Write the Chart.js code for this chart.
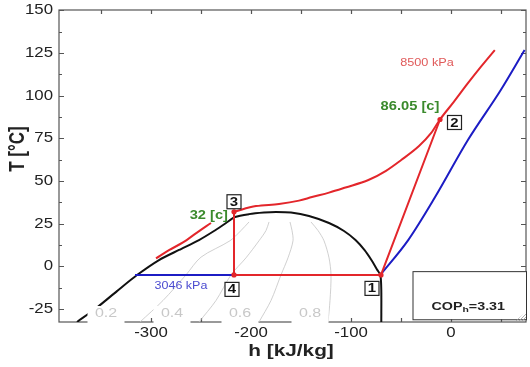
<!DOCTYPE html>
<html>
<head>
<meta charset="utf-8">
<script src="https://cdn.jsdelivr.net/npm/chart.js@4.4.0/dist/chart.umd.min.js"></script>
<style>
  html, body { margin: 0; padding: 0; background: #fff; }
  canvas { display: block; }
</style>
</head>
<body>
<canvas id="chart" width="530" height="367"></canvas>
<script>
// T-h diagram, CO2 heat pump cycle

const xTicks = [-300, -200, -100, 0];
const yTicks = [150, 125, 100, 75, 50, 25, 0, -25];

// saturation dome
const domeH = [-374, -354, -334, -314, -292, -272, -252, -237, -225, -216, -202, -187, -175, -160, -142, -122, -107, -95.5, -86.6, -79.6, -73.6, -70.6, -69.7, -69.7];
const domeT = [-32.6, -24.1, -14.5, -5.1, 3.7, 9.6, 15.4, 20.7, 25.4, 28.9, 30.6, 31.5, 31.8, 31.5, 29.5, 25.4, 20.7, 15.4, 9.6, 3.7, -2.2, -5.1, -13.9, -32.6];

// 8500 kPa isobar (gap under the "32 [c]" label)
const hpH = [-295, -282, -268, -254, -240, -228, -217, -195, -172, -152, -139, -122, -105.5, -82.6, -65, -49.8, -32, -20, -11, 3, 16.9, 30, 43.8];
const hpT = [4.7, 9.5, 14, 19.8, 25.4, null, 32, 35.3, 36.5, 38.5, 40.6, 43.2, 46.2, 50.6, 56, 62.3, 70.5, 78, 86.05, 96.5, 107.3, 117, 126.7];

// 3046 kPa isobar
const lpH = [-316, -217, -140, -70.6, -42.8, -15.9, 16.9, 49.8, 73.6];
const lpT = [-5, -5, null, -5, 15.4, 40.6, 74, 103.3, 126.7];

// cycle 1-2, 3-4-1
const cycH = [-70, -11, -100, -217, -217, -70];
const cycT = [-5, 86.05, null, 32, -5, -5];

// state points
const stateLabels = ['1', '2', '3', '4'];
const stateH = [-70, -11, -217, -217];
const stateT = [-5, 86.05, 32, -5];

// quality lines
const qualityLabels = ['0.2', '0.4', '0.6', '0.8'];
const q02H = [-311, -288, -265, -250, -221, -210, -202];
const q02T = [-32.6, -20, -5, 5.4, 15, 21, 26];
const q04H = [-252, -235, -220, -205, -192, -185, -182];
const q04T = [-32.6, -20, -5, 5, 15, 21, 26];
const q06H = [-192, -180, -170, -163, -158, -159, -161];
const q06T = [-32.6, -20, -5, 5, 15, 21, 26];
const q08H = [-123, -121, -120, -122, -127, -133, -140];
const q08T = [-32.6, -20, -5, 5, 15, 21, 26];

const FONT = '"Liberation Sans", Arial, Helvetica, sans-serif';
const RED = '#e3262b';
const BLUE = '#1c1cc4';

function pts(hs, ts) {
    return hs.map((h, i) => ({ x: h, y: ts[i] }));
}

function txt(ctx, s, x, y, font, color, align, sx) {
    ctx.save();
    ctx.translate(x, y);
    ctx.scale(sx, 1);
    ctx.font = font;
    ctx.fillStyle = color;
    ctx.textAlign = align;
    ctx.textBaseline = 'middle';
    ctx.fillText(s, 0, 0);
    ctx.restore();
}

function qualityLine(hs, ts) {
    return {
        data: pts(hs, ts), showLine: true, borderColor: '#c4c4c4',
        borderWidth: 0.8, pointRadius: 0, tension: 0.3, order: 5,
    };
}

const deco = {
    id: 'deco',
    beforeDatasetsDraw(chart) {
        const ctx = chart.ctx;
        const a = chart.chartArea;
        const xs = chart.scales.x, ys = chart.scales.y;
        ctx.save();
        ctx.strokeStyle = '#555';
        ctx.lineWidth = 1.2;
        ctx.strokeRect(a.left, a.top, a.right - a.left, a.bottom - a.top);
        ctx.beginPath();
        for (let v = -25; v <= 150; v += 12.5) {
            const y = Math.round(ys.getPixelForValue(v)) + 0.5;
            const len = v % 25 === 0 ? 5 : 3;
            ctx.moveTo(a.left, y); ctx.lineTo(a.left + len, y);
            ctx.moveTo(a.right, y); ctx.lineTo(a.right - len, y);
        }
        for (let h = -350; h <= 50; h += 50) {
            const x = Math.round(xs.getPixelForValue(h)) + 0.5;
            ctx.moveTo(x, a.top); ctx.lineTo(x, a.top + 4);
            ctx.moveTo(x, a.bottom); ctx.lineTo(x, a.bottom - 4);
        }
        ctx.stroke();
        ctx.restore();
    },
    afterDatasetsDraw(chart) {
        const ctx = chart.ctx;
        const a = chart.chartArea;
        const xs = chart.scales.x, ys = chart.scales.y;
        const px = h => xs.getPixelForValue(h);
        const py = t => ys.getPixelForValue(t);

        // quality labels with white boxes over the axis
        const qH = [-345, -279, -211, -141];
        qualityLabels.forEach((s, i) => {
            const cx = px(qH[i]);
            ctx.fillStyle = '#fff';
            ctx.fillRect(cx - 18.5, 306, 37, 18);
            txt(ctx, s, cx, 314, '12.5px ' + FONT, '#c8c8c8', 'center', 1.28);
        });

        // isobar labels
        txt(ctx, '8500 kPa', px(-24), py(119), '10px ' + FONT, '#e05a5a', 'center', 1.27);
        txt(ctx, '3046 kPa', px(-270), py(-11.5), '10px ' + FONT, '#4b4bd0', 'center', 1.25);

        // temperature labels
        const p2x = px(stateH[1]), p2y = py(stateT[1]);
        const p3x = px(stateH[2]), p3y = py(stateT[2]);
        txt(ctx, '86.05 [c]', p2x - 30, p2y - 13, 'bold 13px ' + FONT, '#3a8a2c', 'center', 1.13);
        txt(ctx, '32 [c]', p3x - 6, p3y + 3.5, 'bold 13px ' + FONT, '#3a8a2c', 'right', 1.13);

        // state boxes
        const off = [[-9, 13.5], [14.5, 3], [0, -10], [-2, 14.5]];
        stateLabels.forEach((s, i) => {
            const cx = px(stateH[i]) + off[i][0];
            const cy = py(stateT[i]) + off[i][1];
            ctx.fillStyle = '#fff';
            ctx.fillRect(cx - 7, cy - 7, 14, 14);
            ctx.strokeStyle = '#222';
            ctx.lineWidth = 1.2;
            ctx.strokeRect(cx - 7, cy - 7, 14, 14);
            txt(ctx, s, cx, cy + 0.5, 'bold 13px ' + FONT, '#111', 'center', 1.15);
        });

        // COP box
        const bx = px(-38.5), by = py(-2.8), bb = py(-31);
        ctx.fillStyle = '#fff';
        ctx.fillRect(bx, by, a.right - bx, bb - by);
        ctx.strokeStyle = '#333';
        ctx.lineWidth = 1;
        ctx.strokeRect(bx + 0.5, by + 0.5, a.right - bx, bb - by);
        const cx = px(-19.5), cy = py(-23.8);
        ctx.save();
        ctx.translate(cx, cy);
        ctx.scale(1.3, 1);
        ctx.fillStyle = '#222';
        ctx.textBaseline = 'middle';
        ctx.textAlign = 'left';
        ctx.font = 'bold 11px ' + FONT;
        ctx.fillText('COP', 0, 0);
        let w = ctx.measureText('COP').width;
        ctx.font = 'bold 8px ' + FONT;
        ctx.fillText('h', w, 3);
        w += ctx.measureText('h').width;
        ctx.font = 'bold 11px ' + FONT;
        ctx.fillText('=3.31', w, 0);
        ctx.restore();

        // corner hatch
        ctx.save();
        ctx.beginPath();
        ctx.moveTo(a.right, a.bottom - 10);
        ctx.lineTo(a.right, a.bottom);
        ctx.lineTo(a.right - 12, a.bottom);
        ctx.closePath();
        ctx.clip();
        ctx.strokeStyle = '#9a9a9a';
        ctx.lineWidth = 0.8;
        ctx.beginPath();
        for (let x = a.right - 14; x < a.right + 10; x += 3) {
            ctx.moveTo(x, a.bottom);
            ctx.lineTo(x + 10, a.bottom - 10);
        }
        ctx.stroke();
        ctx.restore();

        // tick labels
        xTicks.forEach(v => txt(ctx, String(v), px(v), 333, '14px ' + FONT, '#222', 'center', 1.2));
        yTicks.forEach(v => txt(ctx, String(v), 53, py(v), '14px ' + FONT, '#222', 'right', 1.2));

        // axis titles
        txt(ctx, 'h [kJ/kg]', 291, 352, 'bold 16px ' + FONT, '#222', 'center', 1.3);
        ctx.save();
        ctx.translate(18, 149);
        ctx.rotate(-Math.PI / 2);
        ctx.scale(1, 1.3);
        ctx.font = 'bold 17px ' + FONT;
        ctx.fillStyle = '#222';
        ctx.textAlign = 'center';
        ctx.textBaseline = 'middle';
        ctx.fillText('T [°C]', 0, 0);
        ctx.restore();
    },
};

new Chart(document.getElementById('chart'), {
    type: 'scatter',
    data: {
        datasets: [
            {
                data: pts(stateH, stateT), showLine: false, pointRadius: 2.6,
                pointBackgroundColor: RED, pointBorderWidth: 0, order: 0,
            },
            {
                data: pts(cycH, cycT), showLine: true, borderColor: RED,
                borderWidth: 2, pointRadius: 0, tension: 0, order: 1,
            },
            {
                data: pts(hpH, hpT), showLine: true, borderColor: RED,
                borderWidth: 2, pointRadius: 0, cubicInterpolationMode: 'monotone', order: 2,
            },
            {
                data: pts(lpH, lpT), showLine: true, borderColor: BLUE,
                borderWidth: 2, pointRadius: 0, cubicInterpolationMode: 'monotone', order: 3,
            },
            {
                data: pts(domeH, domeT), showLine: true, borderColor: '#111',
                borderWidth: 2, pointRadius: 0, tension: 0.25, order: 4,
            },
            qualityLine(q02H, q02T),
            qualityLine(q04H, q04T),
            qualityLine(q06H, q06T),
            qualityLine(q08H, q08T),
        ],
    },
    options: {
        animation: false,
        responsive: false,
        devicePixelRatio: 1,
        layout: { padding: { top: 10, right: 1, left: 0, bottom: 0 } },
        plugins: { legend: { display: false }, tooltip: { enabled: false } },
        scales: {
            x: {
                type: 'linear', min: -392, max: 75,
                grid: { display: false }, border: { display: false },
                ticks: { display: false },
                afterFit(scale) { scale.height = 45; },
            },
            y: {
                type: 'linear', min: -32.6, max: 150.2,
                grid: { display: false }, border: { display: false },
                ticks: { display: false },
                afterFit(scale) { scale.width = 59; },
            },
        },
    },
    plugins: [deco],
});
</script>
</body>
</html>
